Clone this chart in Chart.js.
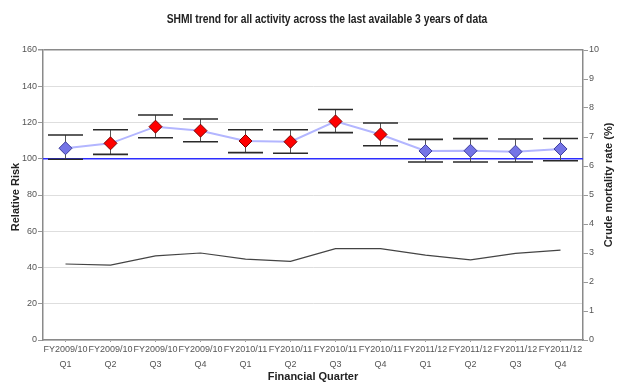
<!DOCTYPE html>
<html>
<head>
<meta charset="utf-8">
<script src="https://cdn.jsdelivr.net/npm/chart.js@4/dist/chart.umd.min.js"></script>
<style>
  html, body { margin: 0; padding: 0; background: #fff; }
  #wrap { width: 617px; height: 382px; position: relative; }
</style>
</head>
<body>
<div id="wrap"><canvas id="c" width="617" height="382"></canvas></div>
<script>
// Financial quarters (two-line tick labels)
const quarters = [
  ['FY2009/10', 'Q1'], ['FY2009/10', 'Q2'], ['FY2009/10', 'Q3'], ['FY2009/10', 'Q4'],
  ['FY2010/11', 'Q1'], ['FY2010/11', 'Q2'], ['FY2010/11', 'Q3'], ['FY2010/11', 'Q4'],
  ['FY2011/12', 'Q1'], ['FY2011/12', 'Q2'], ['FY2011/12', 'Q3'], ['FY2011/12', 'Q4']
];

// SHMI relative risk with its confidence limits
const relativeRisk = [105.8, 108.5, 117.7, 115.5, 109.8, 109.4, 120.6, 113.4, 104.3, 104.4, 103.9, 105.4];
const rrLower      = [ 99.7, 102.4, 111.6, 109.4, 103.4, 103.0, 114.4, 107.2,  98.2,  98.2,  98.2,  98.9];
const rrUpper      = [113.1, 116.0, 124.1, 121.9, 116.0, 116.0, 127.2, 119.7, 110.7, 111.1, 110.9, 111.2];

// Crude mortality rate (%) on the right-hand axis
const crudeMortality = [2.62, 2.58, 2.90, 3.00, 2.79, 2.71, 3.15, 3.15, 2.93, 2.76, 2.99, 3.10];

// Expected level of relative risk
const baseline = 100;

// Axis ranges and tick steps
const rrAxis = { min: 0, max: 160, step: 20 };
const mortalityAxis = { min: 0, max: 10, step: 1 };

const titleText = 'SHMI trend for all activity across the last available 3 years of data';
const xTitle = 'Financial Quarter';
const yTitle = 'Relative Risk';
const y1Title = 'Crude mortality rate (%)';

const SANS = '"Liberation Sans", Arial, sans-serif';

// Red when the lower limit sits above the expected level
const above = rrLower.map(v => v > baseline);
const pointFill = above.map(a => a ? '#ff0000' : '#7474e6');
const pointEdge = above.map(a => a ? '#7a0000' : '#3b3b9c');

// Baseline, error bars and titles
const decorations = {
  id: 'decorations',
  beforeDatasetsDraw(chart) {
    const { ctx, chartArea, scales } = chart;
    const y = scales.y, x = scales.x;
    ctx.save();
    // baseline across the plot
    const by = y.getPixelForValue(baseline);
    ctx.strokeStyle = '#2d2dff';
    ctx.lineWidth = 1.5;
    ctx.beginPath();
    ctx.moveTo(chartArea.left, by);
    ctx.lineTo(chartArea.right, by);
    ctx.stroke();
    // confidence interval whiskers
    const cap = 17.5;
    relativeRisk.forEach((v, i) => {
      const px = x.getPixelForValue(i);
      const lo = y.getPixelForValue(rrLower[i]);
      const hi = y.getPixelForValue(rrUpper[i]);
      ctx.strokeStyle = '#555';
      ctx.lineWidth = 1;
      ctx.beginPath();
      ctx.moveTo(px, lo);
      ctx.lineTo(px, hi);
      ctx.stroke();
      ctx.strokeStyle = '#2a2a2a';
      ctx.lineWidth = 1.6;
      ctx.beginPath();
      ctx.moveTo(px - cap, lo); ctx.lineTo(px + cap, lo);
      ctx.moveTo(px - cap, hi); ctx.lineTo(px + cap, hi);
      ctx.stroke();
    });
    ctx.restore();
  },
  afterDraw(chart) {
    const { ctx, chartArea } = chart;
    ctx.save();
    ctx.fillStyle = '#222';
    ctx.textAlign = 'center';
    ctx.textBaseline = 'middle';
    // condensed bold heading
    ctx.save();
    ctx.translate(327, 20);
    ctx.scale(0.86, 1);
    ctx.font = 'bold 12px ' + SANS;
    ctx.fillText(titleText, 0, 0);
    ctx.restore();
    ctx.font = 'bold 11px ' + SANS;
    ctx.fillText(xTitle, (chartArea.left + chartArea.right) / 2, 377);
    const midY = (chartArea.top + chartArea.bottom) / 2;
    ctx.save();
    ctx.translate(16, midY + 2);
    ctx.rotate(-Math.PI / 2);
    ctx.fillText(yTitle, 0, 0);
    ctx.restore();
    ctx.save();
    ctx.translate(609, midY - 10);
    ctx.rotate(-Math.PI / 2);
    ctx.fillText(y1Title, 0, 0);
    ctx.restore();
    ctx.restore();
  }
};

const tickFont = { family: SANS, size: 9 };

new Chart(document.getElementById('c'), {
  type: 'line',
  data: {
    labels: quarters,
    datasets: [
      {
        label: 'Relative Risk',
        data: relativeRisk,
        yAxisID: 'y',
        borderColor: '#b3b6ff',
        borderWidth: 2,
        pointStyle: 'rectRot',
        pointRadius: 6.5,
        pointBackgroundColor: pointFill,
        pointBorderColor: pointEdge,
        pointBorderWidth: 1,
        tension: 0,
        order: 1
      },
      {
        label: 'Crude mortality rate',
        data: crudeMortality,
        yAxisID: 'y1',
        borderColor: '#444',
        borderWidth: 1.2,
        pointRadius: 0,
        tension: 0,
        order: 2
      }
    ]
  },
  options: {
    responsive: false,
    animation: false,
    layout: { padding: { top: 50, left: 0, right: 0, bottom: 0 } },
    plugins: {
      legend: { display: false },
      title: { display: false },
      tooltip: { enabled: false }
    },
    scales: {
      x: {
        offset: true,
        grid: { display: true, drawOnChartArea: false, offset: false, tickLength: 2, tickColor: '#999' },
        border: { color: '#8a8a8a', width: 1.5 },
        ticks: { color: '#555', font: { ...tickFont, lineHeight: 1.65 }, padding: 0, maxRotation: 0, autoSkip: false },
        afterFit(s) { s.height = 42; }
      },
      y: {
        position: 'left',
        min: rrAxis.min, max: rrAxis.max,
        grid: {
          color: ctx => ctx.tick && ctx.tick.value === rrAxis.max ? '#8a8a8a' : '#dedede',
          lineWidth: ctx => ctx.tick && ctx.tick.value === rrAxis.max ? 1.5 : 1,
          tickLength: 5, tickColor: '#999'
        },
        border: { color: '#8a8a8a', width: 1.5 },
        ticks: { stepSize: rrAxis.step, color: '#555', font: tickFont, padding: 1 },
        afterFit(s) { s.width = 43; }
      },
      y1: {
        position: 'right',
        min: mortalityAxis.min, max: mortalityAxis.max,
        grid: { drawOnChartArea: false, tickLength: 5, tickColor: '#999' },
        border: { color: '#8a8a8a', width: 1.5 },
        ticks: { stepSize: mortalityAxis.step, color: '#555', font: tickFont, padding: 1 },
        afterFit(s) { s.width = 34; }
      }
    }
  },
  plugins: [decorations]
});
</script>
</body>
</html>
